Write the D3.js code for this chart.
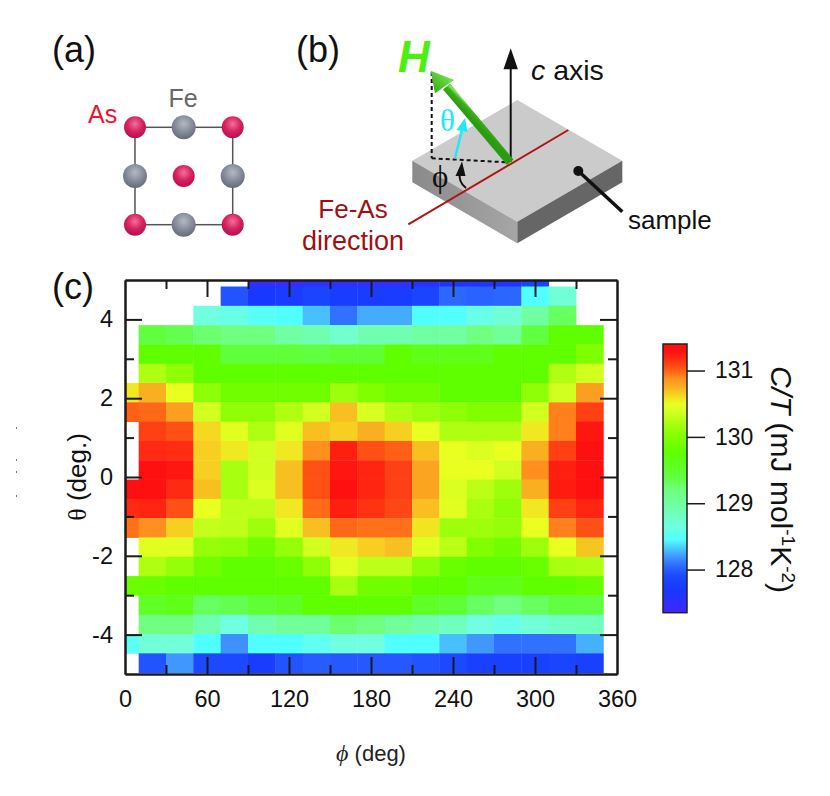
<!DOCTYPE html>
<html>
<head>
<meta charset="utf-8">
<script src="https://d3js.org/d3.v7.min.js"></script>
<style>
  html, body { margin: 0; padding: 0; background: #fff; }
  svg { display: block; }
  text { font-family: "Liberation Sans", Arial, sans-serif; }
  .serif { font-family: "Liberation Serif", "Times New Roman", serif; }
</style>
</head>
<body>
<svg id="chart" width="830" height="796"></svg>
<script>
// phi of each column (deg), theta of each row, top row first
const phis = [0, 20, 40, 60, 80, 100, 120, 140, 160, 180, 200, 220, 240, 260, 280, 300, 320, 340];
const thetas = [5.07, 4.59, 4.1, 3.61, 3.12, 2.63, 2.14, 1.65, 1.16, 0.67, 0.18, -0.31, -0.8, -1.29, -1.78, -2.27, -2.76, -3.25, -3.74, -4.23, -4.72];
const xTicks = [0, 60, 120, 180, 240, 300, 360];
const yTicks = [-4, -2, 0, 2, 4];
const barTicks = [128, 129, 130, 131];

const n = null;
const row00 = [n, n, n, n, n, 127.45, 127.4, 127.5, 127.5, 127.45, 127.45, 127.55, 127.6, 127.6, 127.6, 127.85, n, n];
const row01 = [n, n, n, n, 127.95, 127.7, 127.75, 127.85, 127.75, 127.75, 127.75, 127.85, 128.05, 128.02, 128.04, 128.45, 128.7, n];
const row02 = [n, n, n, 128.65, 128.6, 128.5, 128.45, 128.3, 128.08, 128.25, 128.25, 128.45, 128.47, 128.6, 128.7, 128.98, 129.3, n];
const row03 = [n, 129.4, 129.35, 129.25, 129.2, 129.2, 128.98, 128.9, 128.75, 128.9, 128.9, 128.98, 128.98, 129.2, 129.05, 129.4, 129.75, 129.75];
const row04 = [n, 129.75, 129.75, 129.75, 129.42, 129.42, 129.45, 129.4, 129.47, 129.47, 129.75, 129.62, 129.62, 129.62, 129.75, 129.75, 129.75, 130.0];
const row05 = [n, 130.23, 130.07, 129.75, 129.75, 129.75, 129.75, 129.75, 129.75, 129.75, 129.75, 129.75, 129.75, 129.75, 129.75, 129.75, 130.23, 130.35];
const row06 = [130.57, 130.75, 130.5, 130.07, 129.88, 129.88, 129.88, 129.88, 130.15, 130.0, 129.88, 129.88, 129.75, 129.75, 129.75, 130.07, 130.35, 130.82];
const row07 = [131.0, 130.98, 130.82, 130.35, 130.07, 130.07, 130.23, 130.35, 130.7, 130.4, 130.23, 130.15, 130.07, 130.0, 130.0, 130.35, 130.92, 131.1];
const row08 = [n, 131.1, 131.05, 130.62, 130.45, 130.23, 130.45, 130.7, 130.65, 130.75, 130.65, 130.5, 130.23, 130.23, 130.23, 130.57, 130.92, 131.27];
const row09 = [n, 131.18, 131.17, 130.65, 130.57, 130.35, 130.57, 130.88, 131.23, 131.05, 131.0, 130.7, 130.5, 130.42, 130.5, 130.75, 131.1, 131.3];
const row10 = [n, 131.3, 131.27, 130.65, 130.2, 130.35, 130.7, 131.05, 131.27, 131.2, 131.1, 130.8, 130.5, 130.5, 130.35, 130.88, 131.23, 131.3];
const row11 = [131.3, 131.3, 131.18, 130.7, 130.2, 130.42, 130.7, 131.05, 131.3, 131.2, 131.1, 130.8, 130.42, 130.27, 130.15, 130.75, 131.25, 131.3];
const row12 = [131.18, 131.2, 131.05, 130.5, 130.28, 130.28, 130.57, 130.97, 131.23, 131.15, 131.08, 130.7, 130.45, 130.2, 130.07, 130.57, 131.1, 131.2];
const row13 = [130.96, 130.88, 130.65, 130.3, 130.28, 130.15, 130.45, 130.7, 130.98, 130.96, 130.96, 130.58, 130.15, 130.15, 130.1, 130.5, 130.92, 131.05];
const row14 = [n, 130.45, 130.45, 130.1, 130.07, 129.88, 130.1, 130.35, 130.57, 130.65, 130.7, 130.45, 130.27, 130.0, 129.88, 130.15, 130.5, 130.68];
const row15 = [n, 130.23, 130.1, 129.88, 129.75, 129.75, 129.82, 130.07, 130.45, 130.28, 130.28, 130.07, 129.82, 129.75, 129.75, 129.82, 130.2, 130.23];
const row16 = [129.82, 129.82, 129.75, 129.75, 129.75, 129.75, 129.75, 129.75, 130.2, 129.88, 129.88, 129.75, 129.75, 129.62, 129.62, 129.75, 129.75, 129.82];
const row17 = [n, 129.55, 129.62, 129.3, 129.35, 129.47, 129.55, 129.75, 129.75, 129.75, 129.75, 129.55, 129.47, 129.3, 129.2, 129.3, 129.4, 129.4];
const row18 = [n, 129.2, 129.2, 128.9, 128.65, 128.9, 129.05, 129.05, 129.25, 129.2, 129.05, 128.9, 128.82, 128.65, 128.58, 128.7, 128.78, 128.82];
const row19 = [128.52, 128.7, 128.7, 128.45, 128.18, 128.45, 128.45, 128.55, 128.65, 128.65, 128.45, 128.45, 128.3, 128.2, 128.08, 128.08, 128.08, 128.26];
const row20 = [n, 127.95, 128.2, 127.9, 127.9, 127.75, 127.95, 128.0, 127.98, 127.98, 127.98, 127.95, 127.9, 127.8, 127.8, 127.8, 127.85, 127.8];
const rows = [row00, row01, row02, row03, row04, row05, row06, row07, row08, row09, row10, row11, row12, row13, row14, row15, row16, row17, row18, row19, row20];

// colour table of the colour bar
const stopValues = [127.35, 127.7, 127.9, 128.05, 128.2, 128.3, 128.45, 128.65, 128.9, 129.2, 129.4, 129.75, 130.0, 130.2, 130.35, 130.5, 130.62, 130.75, 130.88, 131.0, 131.1, 131.2, 131.3, 131.4];
const stopColors = ["#4028ff", "#1838ff", "#1c48ff", "#2c68ff", "#4098ff", "#48c0ff", "#50ffff", "#70ffe0", "#70ffb0", "#70ff80", "#60ff40", "#60ff00", "#80ff00", "#a8ff10", "#d0ff20", "#e8ff20", "#f5d820", "#f8b020", "#ff9020", "#ff6015", "#ff4015", "#ff2510", "#ff1010", "#ff1010"];

const svg = d3.select("#chart");
const ink = "#1a1a1a";
const color = d3.scaleLinear().domain(stopValues).range(stopColors);

// Panel c
const x = d3.scaleLinear().domain([0, 360]).range([125, 617]);
const y = d3.scaleLinear().domain([-5, 5]).range([674, 280]);
const phiStep = 20, thetaStep = 0.49;

svg.append("defs").append("clipPath").attr("id", "plot")
  .append("rect").attr("x", 125).attr("y", 280).attr("width", 492).attr("height", 394);

const cells = svg.append("g").attr("clip-path", "url(#plot)");
rows.forEach((vals, r) => {
  cells.append("g").selectAll("rect")
    .data(vals.map((v, c) => ({ v, phi: phis[c], theta: thetas[r] })).filter(d => d.v !== null))
    .join("rect")
    .attr("x", d => x(d.phi - phiStep / 2))
    .attr("y", d => y(d.theta + thetaStep / 2))
    .attr("width", x(phiStep) - x(0) + 0.4)
    .attr("height", y(0) - y(thetaStep) + 0.4)
    .attr("fill", d => color(d.v));
});

// ticks point inwards on all four sides, long on the labelled values
function styleAxis(g) {
  g.select(".domain").attr("stroke", ink).attr("stroke-width", 2);
  g.selectAll("line").attr("stroke", ink).attr("stroke-width", 2);
  g.selectAll("text").attr("font-size", 23.5).attr("fill", "#111");
}
const xMinor = xTicks.slice(1).map(d => d - 30);
const yMinor = [-3, -1, 1, 3];

svg.append("g").attr("transform", "translate(0,674)")
  .call(d3.axisBottom(x).tickValues(xTicks).tickSize(-17).tickPadding(16).tickSizeOuter(0))
  .call(styleAxis).call(g => g.selectAll("line").filter(d => d === 0 || d === 360).remove());
svg.append("g").attr("transform", "translate(0,674)")
  .call(d3.axisBottom(x).tickValues(xMinor).tickSize(-9).tickFormat("").tickSizeOuter(0)).call(styleAxis);
svg.append("g").attr("transform", "translate(0,280)")
  .call(d3.axisTop(x).tickValues(xTicks).tickSize(-17).tickFormat("").tickSizeOuter(0))
  .call(styleAxis).call(g => g.selectAll("line").filter(d => d === 0 || d === 360).remove());
svg.append("g").attr("transform", "translate(0,280)")
  .call(d3.axisTop(x).tickValues(xMinor).tickSize(-9).tickFormat("").tickSizeOuter(0)).call(styleAxis);

svg.append("g").attr("transform", "translate(125,0)")
  .call(d3.axisLeft(y).tickValues(yTicks).tickSize(-17).tickPadding(12).tickSizeOuter(0)
    .tickFormat(d => d))
  .call(styleAxis);
svg.append("g").attr("transform", "translate(125,0)")
  .call(d3.axisLeft(y).tickValues(yMinor).tickSize(-9).tickFormat("").tickSizeOuter(0)).call(styleAxis);
svg.append("g").attr("transform", "translate(617,0)")
  .call(d3.axisRight(y).tickValues(yTicks).tickSize(-17).tickFormat("").tickSizeOuter(0)).call(styleAxis);
svg.append("g").attr("transform", "translate(617,0)")
  .call(d3.axisRight(y).tickValues(yMinor).tickSize(-9).tickFormat("").tickSizeOuter(0)).call(styleAxis);

svg.append("text").attr("transform", "translate(86,477) rotate(-90)")
  .attr("text-anchor", "middle").attr("font-size", 26).attr("fill", "#111")
  .call(t => {
    t.append("tspan").attr("class", "serif").text("θ");
    t.append("tspan").text(" (deg.)");
  });
svg.append("text").attr("x", 371).attr("y", 761).attr("text-anchor", "middle").attr("fill", "#222")
  .call(t => {
    t.append("tspan").attr("class", "serif").attr("font-style", "italic").attr("font-size", 24).text("ϕ");
    t.append("tspan").attr("font-size", 22).text(" (deg)");
  });

// Colour bar
const barY = d3.scaleLinear().domain([127.35, 131.4]).range([612.7, 344]);
const grad = svg.select("defs").append("linearGradient").attr("id", "bar")
  .attr("x1", 0).attr("x2", 0).attr("y1", 1).attr("y2", 0);
grad.selectAll("stop").data(stopValues).join("stop")
  .attr("offset", d => (d - 127.35) / (131.4 - 127.35))
  .attr("stop-color", d => color(d));
svg.append("rect").attr("x", 663).attr("y", 344).attr("width", 24).attr("height", 268.7)
  .attr("fill", "url(#bar)").attr("stroke", "#222").attr("stroke-width", 1.5);
svg.append("g").attr("transform", "translate(687,0)")
  .call(d3.axisRight(barY).tickValues(barTicks).tickSize(18).tickPadding(10).tickSizeOuter(0).tickFormat(d3.format("d")))
  .call(g => g.select(".domain").remove())
  .call(g => g.selectAll("line").attr("stroke", ink).attr("stroke-width", 1.5))
  .call(g => g.selectAll("text").attr("font-size", 23).attr("fill", "#111"));
svg.append("text").attr("transform", "translate(771,479.5) rotate(90)")
  .attr("text-anchor", "middle").attr("font-size", 30).attr("fill", "#111")
  .call(t => {
    t.append("tspan").attr("font-style", "italic").text("C/T");
    t.append("tspan").text(" (mJ mol");
    t.append("tspan").attr("font-size", 19).attr("dy", -11).text("-1");
    t.append("tspan").attr("dy", 11).text("K");
    t.append("tspan").attr("font-size", 19).attr("dy", -11).text("-2");
    t.append("tspan").attr("dy", 11).text(")");
  });

// Panel letters
[["(a)", 52, 62], ["(b)", 296, 62], ["(c)", 52, 299]].forEach(([s, px, py]) => {
  svg.append("text").attr("x", px).attr("y", py).attr("font-size", 36).attr("fill", "#111").text(s);
});

// Panel a: unit cell
const defs = svg.select("defs");
function ballGradient(id, hi, mid, lo) {
  const g = defs.append("radialGradient").attr("id", id)
    .attr("cx", 0.5).attr("cy", 0.35).attr("r", 0.65);
  g.append("stop").attr("offset", 0).attr("stop-color", hi);
  g.append("stop").attr("offset", 0.55).attr("stop-color", mid);
  g.append("stop").attr("offset", 1).attr("stop-color", lo);
}
ballGradient("ballAs", "#f0709a", "#d8205f", "#b01050");
ballGradient("ballFe", "#b4bac4", "#868c9a", "#646a78");

const cellX = [135, 183.7, 232.7], cellY = [127.3, 176, 224.7];
svg.append("rect").attr("x", cellX[0]).attr("y", cellY[0])
  .attr("width", cellX[2] - cellX[0]).attr("height", cellY[2] - cellY[0])
  .attr("fill", "none").attr("stroke", "#555").attr("stroke-width", 1.5);
cellY.forEach((cy, j) => cellX.forEach((cx, i) => {
  const isAs = (i + j) % 2 === 0;
  svg.append("circle").attr("cx", cx).attr("cy", cy).attr("r", isAs ? 11 : 12)
    .attr("fill", isAs ? "url(#ballAs)" : "url(#ballFe)");
}));
svg.append("text").attr("x", 183).attr("y", 107).attr("text-anchor", "middle")
  .attr("font-size", 25).attr("fill", "#666").text("Fe");
svg.append("text").attr("x", 88).attr("y", 123)
  .attr("font-size", 25).attr("fill", "#f01030").text("As");

// Panel b: sample sketch
const faceGrad = defs.append("linearGradient").attr("id", "faceLeft")
  .attr("x1", 0).attr("x2", 1).attr("y1", 0).attr("y2", 0);
faceGrad.append("stop").attr("offset", 0).attr("stop-color", "#8a8a8a");
faceGrad.append("stop").attr("offset", 1).attr("stop-color", "#a6a6a6");
// across the shaft: dark edge, light ridge, mid green
const greenGrad = defs.append("linearGradient").attr("id", "shaft").attr("gradientUnits", "userSpaceOnUse")
  .attr("x1", 443).attr("y1", 91).attr("x2", 450).attr("y2", 84);
greenGrad.append("stop").attr("offset", 0).attr("stop-color", "#2c9a12");
greenGrad.append("stop").attr("offset", 0.6).attr("stop-color", "#3cb01c");
greenGrad.append("stop").attr("offset", 0.85).attr("stop-color", "#8ae860");
greenGrad.append("stop").attr("offset", 1).attr("stop-color", "#58c838");
const headGrad = defs.append("linearGradient").attr("id", "head")
  .attr("x1", 0).attr("x2", 1).attr("y1", 1).attr("y2", 0);
headGrad.append("stop").attr("offset", 0).attr("stop-color", "#2fa014");
headGrad.append("stop").attr("offset", 0.7).attr("stop-color", "#6cdc44");
headGrad.append("stop").attr("offset", 1).attr("stop-color", "#44bc24");

const poly = (pts, fill) => svg.append("polygon").attr("points", pts.join(" ")).attr("fill", fill);
const line = (x1, y1, x2, y2, stroke, w) => svg.append("line")
  .attr("x1", x1).attr("y1", y1).attr("x2", x2).attr("y2", y2)
  .attr("stroke", stroke).attr("stroke-width", w);

poly(["517.3,100", "622.3,160.7", "517.3,221.7", "412.3,160.7"], "#cbcbcb");
poly(["412.3,160.7", "517.3,221.7", "517.3,243.3", "412.3,182.3"], "url(#faceLeft)");
poly(["517.3,221.7", "622.3,160.7", "622.3,182.3", "517.3,243.3"], "#666");
line(408.3, 224.3, 568.3, 130, "#b01414", 2);

// c axis
line(510.7, 161.7, 510.7, 66, "#111", 2);
poly(["510.7,48.3", "503.5,69.3", "517.9,69.3"], "#111");

// dashed projection
line(431.7, 72, 431.7, 158.3, "#111", 2).attr("stroke-dasharray", "4 3");
line(431.7, 158.3, 507, 162.3, "#111", 2).attr("stroke-dasharray", "4 3");

// H arrow
poly(["507,165", "513.5,159.5", "450,83.5", "443,89.5"], "url(#shaft)");
poly(["430.7,70.7", "454,80", "435,93.3"], "url(#head)");

// theta arrow
line(455, 158.3, 462.5, 128, "#20e8f8", 2.5);
poly(["465,118", "456.5,130", "467.5,132"], "#20e8f8");

// phi arrow
svg.append("path").attr("d", "M466,188 Q458,182 460,172").attr("fill", "none")
  .attr("stroke", "#111").attr("stroke-width", 2);
poly(["462,161.5", "455.5,176", "465.5,176"], "#111");

// sample pointer
svg.append("circle").attr("cx", 578.3).attr("cy", 171).attr("r", 5).attr("fill", "#111");
line(578.3, 171, 622.3, 211.7, "#111", 3.5);

svg.append("text").attr("x", 398).attr("y", 72).attr("font-size", 44)
  .attr("font-weight", "bold").attr("font-style", "italic").attr("fill", "#4cf010").text("H");
svg.append("text").attr("class", "serif").attr("x", 440).attr("y", 131).attr("font-size", 31)
  .attr("fill", "#20e8f8").text("θ");
svg.append("text").attr("class", "serif").attr("x", 432).attr("y", 187).attr("font-size", 31)
  .attr("fill", "#111").text("ϕ");
svg.append("text").attr("x", 531).attr("y", 80).attr("font-size", 28.5).attr("fill", "#111")
  .call(t => {
    t.append("tspan").attr("font-style", "italic").text("c");
    t.append("tspan").text(" axis");
  });
svg.append("text").attr("x", 628).attr("y", 229).attr("font-size", 26).attr("fill", "#111").text("sample");
svg.append("text").attr("x", 353).attr("y", 218).attr("text-anchor", "middle")
  .attr("font-size", 26).attr("fill", "#a01010").text("Fe-As");
svg.append("text").attr("x", 353).attr("y", 250).attr("text-anchor", "middle")
  .attr("font-size", 27).attr("fill", "#a01010").text("direction");

// faint specks left of the axis in the scan
[427, 459, 471, 495].forEach(sy => {
  line(16.5, sy, 16.5, sy + 2, "#777", 1);
});
</script>
</body>
</html>
